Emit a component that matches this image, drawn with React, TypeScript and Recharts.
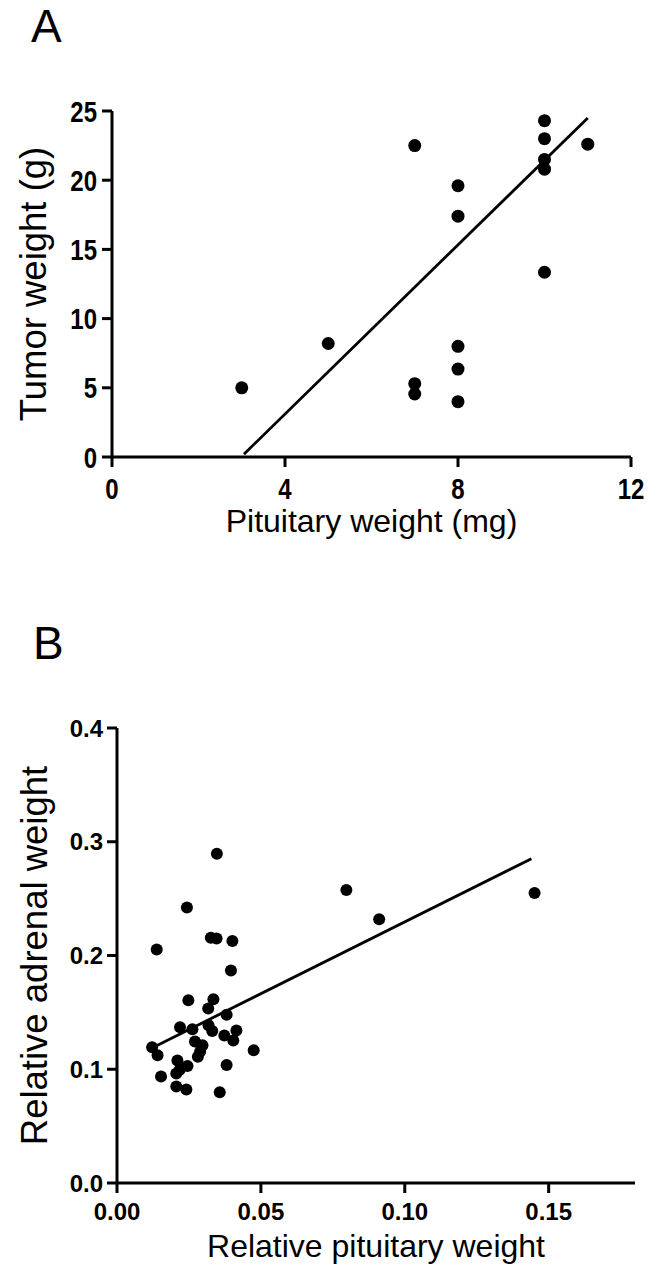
import React from 'react';
import { ScatterChart, Scatter, XAxis, YAxis } from 'recharts';

// Panel A
const aPituitary = [3, 5, 7, 7, 7, 8, 8, 8, 8, 8, 10, 10, 10, 10, 10, 11];
const aTumor = [5.0, 8.2, 22.5, 5.3, 4.55, 19.6, 17.4, 8.0, 6.35, 4.0, 24.3, 23.0, 21.5, 20.8, 13.35, 22.6];
const aFitX = [3.05, 11];
const aFitY = [0.2, 24.5];
const aXTicks = [0, 4, 8, 12];
const aYTicks = [0, 5, 10, 15, 20, 25];

// Panel B
const bPituitary = [
  0.0797, 0.0911, 0.1451, 0.0347, 0.0243, 0.0138, 0.0326, 0.0346, 0.0401, 0.0396,
  0.0248, 0.0335, 0.0317, 0.0381, 0.0219, 0.0262, 0.0318, 0.0331, 0.0373, 0.0415,
  0.0404, 0.0271, 0.0297, 0.0289, 0.0281, 0.0475, 0.0122, 0.0141, 0.0210, 0.0245,
  0.0218, 0.0206, 0.0381, 0.0153, 0.0206, 0.0241, 0.0357,
];
const bAdrenal = [
  0.2576, 0.2319, 0.2550, 0.2895, 0.2423, 0.2053, 0.2157, 0.2149, 0.2128, 0.1869,
  0.1607, 0.1615, 0.1534, 0.1480, 0.1370, 0.1352, 0.1386, 0.1337, 0.1297, 0.1341,
  0.1253, 0.1243, 0.1212, 0.1157, 0.1110, 0.1167, 0.1193, 0.1123, 0.1077, 0.1028,
  0.0995, 0.0962, 0.1037, 0.0937, 0.0849, 0.0823, 0.0797,
];
const bFitX = [0.0118, 0.144];
const bFitY = [0.1182, 0.2851];
const bXTicks = [0, 0.05, 0.1, 0.15];
const bYTicks = [0, 0.1, 0.2, 0.3, 0.4];

const aPoints = aPituitary.map((x, i) => ({ x, y: aTumor[i] }));
const aFit = aFitX.map((x, i) => ({ x, y: aFitY[i] }));
const bPoints = bPituitary.map((x, i) => ({ x, y: bAdrenal[i] }));
const bFit = bFitX.map((x, i) => ({ x, y: bFitY[i] }));

const SANS = '"Liberation Sans", Arial, sans-serif';
const axisStroke = { stroke: '#000', strokeWidth: 3 };

const Dot = (r: number) => (props: any) => (
  <circle cx={props.cx} cy={props.cy} r={r} fill="#000" />
);
const NoShape = () => <g />;

// Condensed bold tick labels (Arial Narrow look) for panel A
const NarrowTick = (vertical: 'start' | 'middle') => (props: any) => {
  const { x, y, payload, textAnchor } = props;
  return (
    <g transform={`translate(${x},${y})`}>
      <text
        transform="scale(0.8,1)"
        textAnchor={textAnchor}
        dy={vertical === 'start' ? '0.71em' : '0.355em'}
        fontFamily={SANS}
        fontWeight="bold"
        fontSize={30}
        fill="#000"
      >
        {payload.value}
      </text>
    </g>
  );
};

const xTitle = (text: string, dy: number) => (props: any) => {
  const vb = props.viewBox;
  return (
    <text x={vb.x + vb.width / 2} y={vb.y + dy} textAnchor="middle" fontFamily={SANS} fontSize={32} fill="#000">
      {text}
    </text>
  );
};
const yTitle = (text: string, xb: number) => (props: any) => {
  const vb = props.viewBox;
  const cy = vb.y + vb.height / 2;
  return (
    <text x={xb} y={cy} textAnchor="middle" transform={`rotate(-90 ${xb} ${cy})`} fontFamily={SANS} fontSize={36.5} fill="#000">
      {text}
    </text>
  );
};

export default function App() {
  return (
    <div style={{ position: 'absolute', left: 0, top: 0, width: 650, height: 1273, background: '#fff' }}>
      <div style={{ position: 'absolute', left: 31, top: 3, fontFamily: SANS, fontSize: 46, lineHeight: '46px', color: '#000' }}>A</div>
      <div style={{ position: 'absolute', left: 33, top: 620, fontFamily: SANS, fontSize: 46, lineHeight: '46px', color: '#000' }}>B</div>

      <div style={{ position: 'absolute', left: 0, top: 0 }}>
        <ScatterChart width={650} height={560} margin={{ top: 111, right: 19, bottom: 0, left: 0 }}>
          <XAxis
            type="number"
            dataKey="x"
            domain={[0, 12]}
            ticks={aXTicks}
            allowDataOverflow
            height={103}
            axisLine={axisStroke}
            tickLine={axisStroke}
            tickSize={10}
            tickMargin={11}
            tick={NarrowTick('start')}
            label={{ content: xTitle('Pituitary weight (mg)', 75) } as any}
          />
          <YAxis
            type="number"
            dataKey="y"
            domain={[0, 25]}
            ticks={aYTicks}
            allowDataOverflow
            width={112}
            axisLine={axisStroke}
            tickLine={axisStroke}
            tickSize={10}
            tickMargin={5}
            tick={NarrowTick('middle')}
            label={{ content: yTitle('Tumor weight (g)', 46) } as any}
          />
          <Scatter data={aFit} line={{ stroke: '#000', strokeWidth: 2.8 }} shape={NoShape} isAnimationActive={false} legendType="none" />
          <Scatter data={aPoints} shape={Dot(6.5)} isAnimationActive={false} />
        </ScatterChart>
      </div>

      <div style={{ position: 'absolute', left: 0, top: 600 }}>
        <ScatterChart width={650} height={673} margin={{ top: 128, right: 15, bottom: 0, left: 0 }}>
          <XAxis
            type="number"
            dataKey="x"
            domain={[0, 0.18]}
            ticks={bXTicks}
            allowDataOverflow
            height={90}
            axisLine={axisStroke}
            tickLine={axisStroke}
            tickSize={10}
            tickMargin={10}
            tickFormatter={(v: number) => v.toFixed(2)}
            tick={{ fontFamily: SANS, fontWeight: 'bold', fontSize: 24, fill: '#000' }}
            label={{ content: xTitle('Relative pituitary weight', 74) } as any}
          />
          <YAxis
            type="number"
            dataKey="y"
            domain={[0, 0.4]}
            ticks={bYTicks}
            allowDataOverflow
            width={117}
            axisLine={axisStroke}
            tickLine={axisStroke}
            tickSize={10}
            tickMargin={4}
            tickFormatter={(v: number) => v.toFixed(1)}
            tick={{ fontFamily: SANS, fontWeight: 'bold', fontSize: 24, fill: '#000' }}
            label={{ content: yTitle('Relative adrenal weight', 47) } as any}
          />
          <Scatter data={bFit} line={{ stroke: '#000', strokeWidth: 2.8 }} shape={NoShape} isAnimationActive={false} legendType="none" />
          <Scatter data={bPoints} shape={Dot(6)} isAnimationActive={false} />
        </ScatterChart>
      </div>
    </div>
  );
}
